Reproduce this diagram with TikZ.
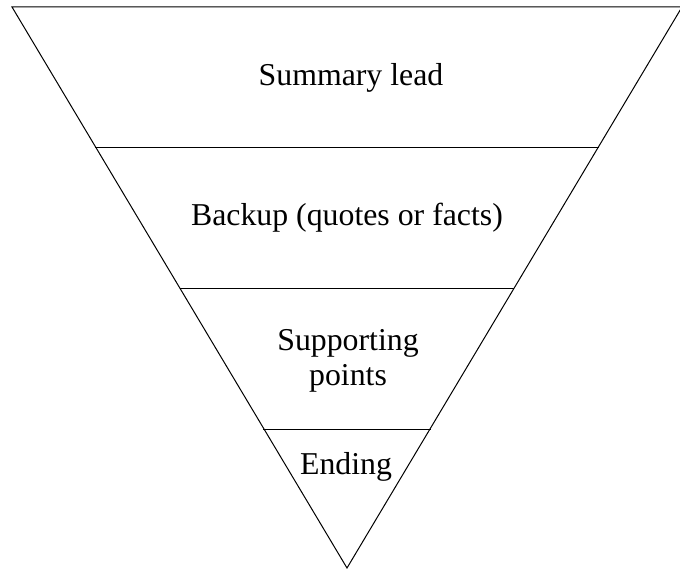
\documentclass[tikz,border=0pt]{standalone}
\usepackage{fontspec}
\setmainfont{Liberation Serif}
\begin{document}
\begin{tikzpicture}[x=1pt,y=-1pt,
  edge/.style={draw=black,line width=1pt},
  lbl/.style={font=\fontsize{31.8}{35}\selectfont,align=center,inner sep=0pt}]
\useasboundingbox (0,0) rectangle (680,569);
\clip (0,0) rectangle (680,569);
\coordinate (tl) at (12,7);
\coordinate (tr) at (682,7);
\coordinate (ap) at (347,568);
\draw[edge] (tl) -- (tr) -- (ap) -- cycle;
\coordinate (l1) at (95.4,148);
\coordinate (r1) at (598.6,148);
\coordinate (l2) at (179.6,289);
\coordinate (r2) at (514.4,289);
\coordinate (l3) at (263.2,429);
\coordinate (r3) at (430.8,429);
\draw[edge] (l1) -- (r1);
\draw[edge] (l2) -- (r2);
\draw[edge] (l3) -- (r3);
\node[lbl] (t1) at (351,78) {Summary lead};
\node[lbl] (t2) at (347,218) {Backup (quotes or facts)};
\node[lbl] (t3) at (348,361) {Supporting\\points};
\node[lbl] (t4) at (346,467) {Ending};
\end{tikzpicture}
\end{document}
